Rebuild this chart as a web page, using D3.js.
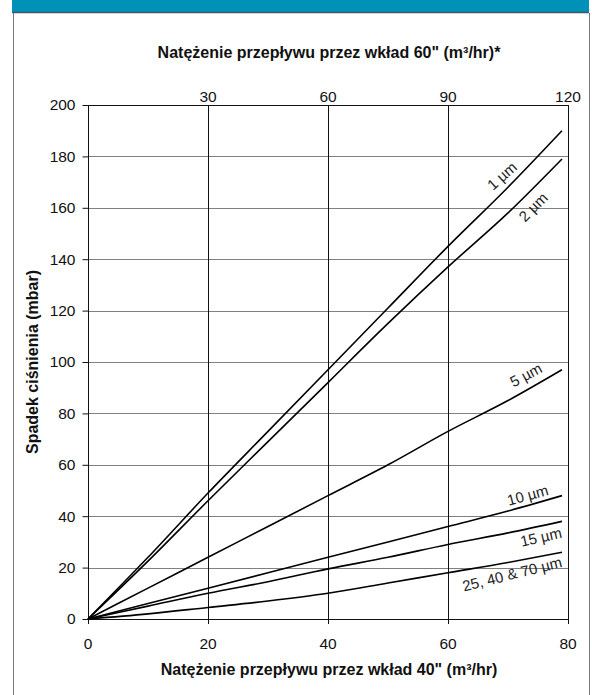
<!DOCTYPE html>
<html>
<head>
<meta charset="utf-8">
<script src="https://cdn.jsdelivr.net/npm/d3@7"></script>
<style>
  body { margin: 0; background: #fff; }
  svg { display: block; font-family: "Liberation Sans", Arial, sans-serif; }
</style>
</head>
<body>
<div id="chart"></div>
<script>
// flow through 40" cartridge (m3/hr) and pressure drop (mbar) per grade
const flow40 = [0, 10, 20, 30, 40, 50, 60, 70, 79];
const um1  = [0, 24, 49, 73, 97, 121, 145, 168, 190];
const um2  = [0, 22.5, 46, 69, 92, 115, 137, 158, 179];
const um5  = [0, 12, 24, 36, 48, 60, 73, 85, 97];
const um10 = [0, 6, 12, 18, 24, 30, 36, 42, 48];
const um15 = [0, 5, 10, 14.5, 19.5, 24, 29, 33.5, 38];
const um25 = [0, 2, 4.5, 7, 10, 14, 18, 22, 26];

const seriesNames = ["1 µm", "2 µm", "5 µm", "10 µm", "15 µm", "25, 40 & 70 µm"];
const seriesValues = [um1, um2, um5, um10, um15, um25];

const yTicks = [0, 20, 40, 60, 80, 100, 120, 140, 160, 180, 200];
const xTicks = [0, 20, 40, 60, 80];
const topTicks = [30, 60, 90, 120];

const W = 592, H = 695;
const svg = d3.select("#chart").append("svg")
  .attr("width", W).attr("height", H);

// banner on top, mostly cut off
svg.append("rect").attr("x", 12).attr("y", 0).attr("width", 577).attr("height", 12)
  .attr("fill", "#0091b8");
svg.append("text").attr("x", 95).attr("y", -4)
  .attr("fill", "#fff")
  .style("font-family", "'DejaVu Serif', serif")
  .style("font-style", "italic").style("font-weight", "bold")
  .style("font-size", "20px")
  .text("Typowy spadek ciśnienia");
svg.append("line").attr("x1", 12).attr("x2", 589).attr("y1", 12.5).attr("y2", 12.5)
  .attr("stroke", "#3f5a68").attr("stroke-width", 1.5);

// panel border
svg.append("line").attr("x1", 13.5).attr("x2", 13.5).attr("y1", 13).attr("y2", H)
  .attr("stroke", "#777");
svg.append("line").attr("x1", 589.5).attr("x2", 589.5).attr("y1", 13).attr("y2", H)
  .attr("stroke", "#777");

const x = d3.scaleLinear().domain([0, 80]).range([88, 568]);
const xTop = d3.scaleLinear().domain([0, 120]).range([88, 568]);
const y = d3.scaleLinear().domain([0, 200]).range([619, 105]);

// horizontal grid
svg.append("g")
  .selectAll("line").data(yTicks.slice(1)).join("line")
  .attr("x1", x(0)).attr("x2", x(80))
  .attr("y1", d => Math.round(y(d)) + 0.5).attr("y2", d => Math.round(y(d)) + 0.5)
  .attr("stroke", "#808080");

// vertical grid (extends a bit below as tick)
svg.append("g")
  .selectAll("line").data(xTicks).join("line")
  .attr("x1", d => Math.round(x(d)) + 0.5).attr("x2", d => Math.round(x(d)) + 0.5)
  .attr("y1", y(200)).attr("y2", y(0) + 5)
  .attr("stroke", "#111");

// frame
svg.append("rect")
  .attr("x", x(0) + 0.5).attr("y", Math.round(y(200)) + 0.5)
  .attr("width", x(80) - x(0)).attr("height", Math.round(y(0)) - Math.round(y(200)))
  .attr("fill", "none").attr("stroke", "#111");

// left axis
const yAxis = svg.append("g")
  .attr("transform", `translate(${x(0) + 0.5},0)`)
  .call(d3.axisLeft(y).tickValues(yTicks).tickSize(6).tickPadding(7));
yAxis.select(".domain").remove();
yAxis.selectAll("line").attr("stroke", "#111");
yAxis.selectAll("text").style("font-size", "15.5px").style("font-family", "'Liberation Sans', Arial, sans-serif").attr("fill", "#111");

// bottom labels
svg.append("g").selectAll("text").data(xTicks).join("text")
  .attr("x", d => x(d)).attr("y", 649)
  .attr("text-anchor", "middle")
  .style("font-size", "15.5px").attr("fill", "#111")
  .text(d => d);

// top labels
svg.append("g").selectAll("text").data(topTicks).join("text")
  .attr("x", d => xTop(d)).attr("y", 102)
  .attr("text-anchor", "middle")
  .style("font-size", "15.5px").attr("fill", "#111")
  .text(d => d);

// titles
svg.append("text").attr("x", 329).attr("y", 58).attr("text-anchor", "middle")
  .style("font-size", "16px").style("font-weight", "bold").attr("fill", "#111")
  .text("Natężenie przepływu przez wkład 60\" (m³/hr)*");
svg.append("text").attr("x", 329).attr("y", 675).attr("text-anchor", "middle")
  .style("font-size", "16px").style("font-weight", "bold").attr("fill", "#111")
  .text("Natężenie przepływu przez wkład 40\" (m³/hr)");
svg.append("text")
  .attr("transform", `translate(38,${y(100)}) rotate(-90)`)
  .attr("text-anchor", "middle")
  .style("font-size", "16px").style("font-weight", "bold").attr("fill", "#111")
  .text("Spadek ciśnienia (mbar)");

// curves
const line = d3.line()
  .x((d, i) => x(flow40[i]))
  .y(d => y(d))
  .curve(d3.curveMonotoneX);

svg.append("g").selectAll("path").data(seriesValues).join("path")
  .attr("d", d => line(d))
  .attr("fill", "none")
  .attr("stroke", "#000")
  .attr("stroke-width", 1.6);

// curve labels (centre position in data units, rotation)
const labelPos = [
  { x: 69, y: 172.4, a: -42 },
  { x: 74.2, y: 160.3, a: -45 },
  { x: 73, y: 95, a: -28 },
  { x: 73.3, y: 48.2, a: -15 },
  { x: 75.5, y: 31.9, a: -13 },
  { x: 70.7, y: 17.5, a: -14 }
];
svg.append("g").selectAll("text").data(seriesNames).join("text")
  .attr("transform", (d, i) => `translate(${x(labelPos[i].x)},${y(labelPos[i].y)}) rotate(${labelPos[i].a})`)
  .attr("dy", "0.35em")
  .attr("text-anchor", "middle")
  .style("font-size", "15px").attr("fill", "#222")
  .text(d => d);
</script>
</body>
</html>
